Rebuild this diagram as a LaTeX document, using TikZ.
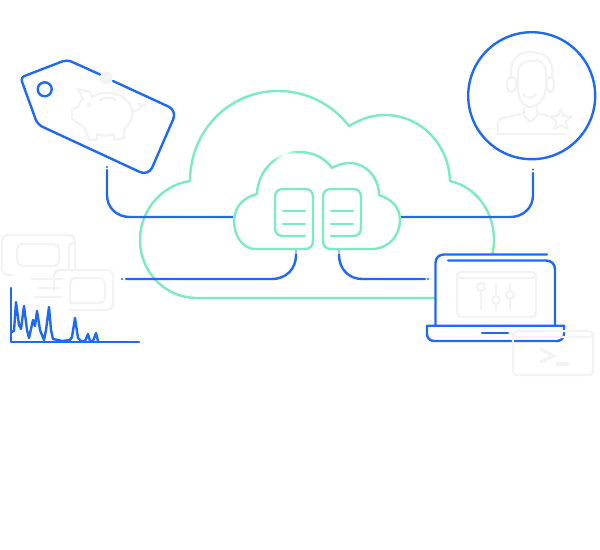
\documentclass[tikz,border=0pt]{standalone}
\usetikzlibrary{fadings}
\definecolor{bl}{HTML}{1F69F5}
\definecolor{gn}{HTML}{7DEBC0}
\definecolor{gy}{HTML}{F3F3F3}
\tikzfading[name=softspot,inner color=transparent!0,outer color=transparent!100]
\tikzset{
  blueline/.style={draw=bl,line width=1.8pt,line cap=round,line join=round},
  greenline/.style={draw=gn,line width=1.8pt,line cap=round,line join=round},
  grayline/.style={draw=gy,line width=1.7pt,line cap=round,line join=round},
  dotend/.style={fill=bl,draw=none},
  softmask/.style={fill=white,draw=none,path fading=softspot}
}
\begin{document}
\begin{tikzpicture}[x=0.75pt,y=-0.75pt]
\useasboundingbox (0,0) rectangle (600,550);
\fill[white] (0,0) rectangle (600,550);
% connector end points
\coordinate (tagend) at (107,170);
\coordinate (supend) at (533,173);
\coordinate (chartend) at (126,279);
\coordinate (lapend) at (425,279);
\coordinate (cloudL) at (234,217);
\coordinate (cloudR) at (400,217);
\coordinate (cloudBL) at (296,250);
\coordinate (cloudBR) at (339,250);
% big cloud
\draw[greenline] (190,181) .. controls (190,131) and (229,91) .. (278,91)
  .. controls (306,91) and (332,104) .. (349,126)
  .. controls (361,119) and (372,115) .. (385,115)
  .. controls (421,115) and (449,145) .. (450,181)
  .. controls (476,187) and (494,211) .. (494,240)
  .. controls (494,272) and (468,298) .. (437,298) -- (197,298)
  .. controls (165,298) and (140,272) .. (140,240)
  .. controls (140,210) and (162,185) .. (190,181);
% connectors
\draw[blueline] (tagend) -- (107,195) .. controls (107,208) and (117,217) .. (130,217) -- (cloudL);
\draw[blueline] (supend) -- (533,195) .. controls (533,208) and (523,217) .. (510,217) -- (cloudR);
\draw[blueline] (chartend) -- (272,279) .. controls (286,279) and (296,269) .. (296,255) -- (cloudBL);
\draw[blueline] (cloudBR) -- (339,255) .. controls (339,269) and (349,279) .. (362,279) -- (lapend);
\fill[dotend] (107,167) circle (1.1); \fill[dotend] (533,169.5) circle (1.1);
\fill[dotend] (122,279) circle (1.1); \fill[dotend] (428,279) circle (1.1);
\fill[white,opacity=.55] (294,250) rectangle (298,254);
\fill[white,opacity=.55] (337,250) rectangle (341,254);
% small cloud with documents
\draw[greenline] (257,194) .. controls (258,170) and (277,152) .. (299,152)
  .. controls (313,152) and (325,158) .. (332,168)
  .. controls (337,165) and (344,163) .. (350,163)
  .. controls (366,163) and (379,178) .. (379,195)
  .. controls (391,199) and (400,207) .. (400,220)
  .. controls (400,236) and (388,249) .. (372,249) -- (331,249)
  .. controls (326,249) and (323,246) .. (323,241) -- (323,197)
  .. controls (323,192) and (326,189) .. (331,189) -- (353,189)
  .. controls (358,189) and (361,192) .. (361,197) -- (361,228)
  .. controls (361,233) and (358,236) .. (353,236) -- (331,236);
\draw[greenline] (305,236) -- (283,236) .. controls (278,236) and (275,233) .. (275,228) -- (275,197)
  .. controls (275,192) and (278,189) .. (283,189) -- (305,189)
  .. controls (310,189) and (313,192) .. (313,197) -- (313,241)
  .. controls (313,246) and (310,249) .. (305,249) -- (255,249)
  .. controls (243,249) and (234,236) .. (234,221)
  .. controls (234,207) and (244,197) .. (257,194);
\draw[greenline] (283,211) -- (305,211) (283,224) -- (305,224);
\draw[greenline] (331,211) -- (353,211) (331,224) -- (353,224);
\fill[softmask] (284,154) circle (13);
% price tag
\draw[grayline] (78,89) -- (90,92) -- (92,97) .. controls (105,89) and (122,93) .. (129,103)
  .. controls (134,110) and (134,122) .. (124,129) -- (124,138) -- (115,140) -- (113,134)
  .. controls (108,136) and (102,136) .. (97,134) -- (97,140) -- (89,140) -- (85,128)
  .. controls (82,126) and (80,125) .. (78,123) -- (72,119) -- (72,109) -- (78,107)
  .. controls (80,103) and (81,101) .. (83,99) -- cycle;
\fill[gy] (89,105) circle (2.5);
\draw[grayline] (100,100) .. controls (105,97) and (112,97) .. (116,100);
\draw[grayline] (132,110) .. controls (138,113) and (143,107) .. (141,104) .. controls (138,102) and (136,108) .. (146,105);
\fill[gy] (106,78) circle (6.5);
\draw[blueline] (100,74.5) [rounded corners=3.5pt] -- (67,59.6) [rounded corners=3pt] -- (20.5,77.5) [rounded corners=4pt] -- (37.5,124.5) [rounded corners=7pt] -- (148.5,176) -- (177,110.5) -- (113,81);
\draw[blueline] (44.7,89.3) circle (7);
% support agent
\draw[blueline] (531.7,95.7) circle (63.5);
\draw[grayline] (511,78) -- (511,68) .. controls (512,58) and (520,52) .. (530,52) .. controls (542,52) and (551,57) .. (552,68) -- (552,77);
\draw[grayline,rounded corners=3.5pt] (507,77) rectangle (516,92);
\draw[grayline,rounded corners=3.5pt] (547,77) rectangle (554,92);
\draw[grayline] (518,88) -- (518,70) .. controls (520,62) and (528,60) .. (533,61) .. controls (538,59) and (545,63) .. (546,70) -- (546,88) .. controls (545,98) and (538,107) .. (530,107) .. controls (523,107) and (518,98) .. (518,88);
\draw[grayline] (523,94) .. controls (524,99) and (535,99) .. (536,94);
\draw[grayline] (524,108) -- (524,116) -- (530,122) -- (537,116) -- (537,108);
\draw[grayline] (498,134) -- (498,124) .. controls (498,120) and (500,118) .. (504,118) -- (524,113);
\draw[grayline] (537,113) -- (548,116);
\draw[grayline] (498,134) -- (565,134);
\draw[grayline,line join=round] (561,109) -- (564,116) -- (571.5,116.6) -- (565.8,121.5) -- (567.5,128.9) -- (561,125) -- (554.5,128.9) -- (556.2,121.5) -- (550.5,116.6) -- (558,116) -- cycle;
% chart with windows
\draw[grayline,rounded corners=4pt] (12,275) -- (2,275) -- (2,235) -- (75,235) -- (75,268);
\draw[grayline,rounded corners=4pt] (25,266) -- (17,266) -- (17,244) -- (59,244) -- (59,266) -- (25,266);
\draw[grayline,rounded corners=3pt] (75,243) -- (69,243) -- (69,268);
\draw[grayline,rounded corners=4pt] (54,290) -- (54,270) -- (113,270) -- (113,310) -- (70,310);
\draw[grayline,rounded corners=4pt] (70,303) -- (70,278) -- (105,278) -- (105,303) -- (70,303);
\draw[grayline] (32,279) -- (63,279) (38,288) -- (59,288) (34,297) -- (62,297);
\draw[blueline] (11,288) -- (11,342) -- (139,342);
\draw[blueline] (11,332) -- (14,331) -- (16,302) -- (19,325) -- (21,329) -- (24,306) -- (27,330) -- (29,338) -- (33,320) -- (35,326) -- (37,311) -- (40,330) -- (44,340) -- (46,330) -- (49,307) -- (51,330) -- (53,339) -- (58,340) -- (62,341) -- (70,340) -- (72,337) -- (75,318) -- (78,338) -- (81,341) -- (85,341) -- (88,334) -- (90,341) -- (93,341) -- (96,333) -- (98,341);
% laptop
\fill[white] (435.5,325) -- (435.5,262) -- (443,254.5) -- (547,254.5) -- (555,262) -- (555,325) -- cycle;
\draw[grayline,rounded corners=3pt] (457,278) -- (457,272) -- (536,272) -- (536,278) -- cycle;
\draw[grayline,rounded corners=3pt] (457,278) -- (457,317) -- (536,317) -- (536,278);
\draw[grayline] (481,292) -- (481,310) (496,284) -- (496,295) (496,305) -- (496,310) (510,284) -- (510,290) (510,300) -- (510,310);
\draw[grayline] (481,287) circle (4) (496,300) circle (4) (510,295) circle (4);
\draw[blueline] (547,254.5) -- (444,254.5) .. controls (439,254.5) and (435.5,258) .. (435.5,263) -- (435.5,325);
\draw[blueline] (448,260.5) -- (546,260.5) .. controls (551,260.5) and (555,264) .. (555,269) -- (555,325);
\draw[blueline] (427,325.7) -- (564,325.7) -- (564,334) .. controls (564,338) and (561,341) .. (557,341) -- (434,341) .. controls (430,341) and (427,338) .. (427,334) -- cycle;
\draw[blueline] (482,333) -- (508,333);
% terminal
\draw[grayline,rounded corners=3pt] (513,337) -- (513,331) -- (593,331) -- (593,337) -- cycle;
\draw[grayline,rounded corners=3pt] (513,337) -- (513,375) -- (593,375) -- (593,337);
\draw[draw=gy,line width=2.6pt] (540,349) -- (553,356) -- (540,362);
\draw[draw=gy,line width=2.6pt] (556,364) -- (569,364);
\end{tikzpicture}
\end{document}
